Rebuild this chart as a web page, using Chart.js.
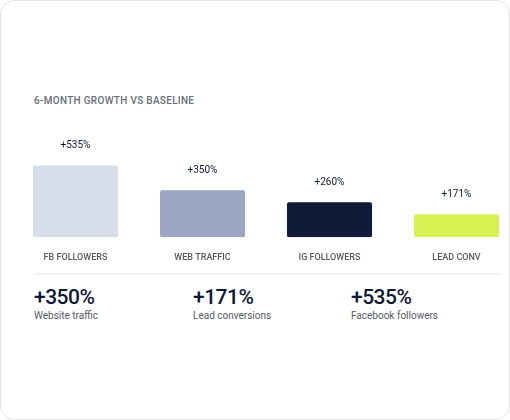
<!DOCTYPE html>
<html>
<head>
<meta charset="utf-8">
<script src="https://cdn.jsdelivr.net/npm/chart.js@4"></script>
<style>
  html, body { margin: 0; padding: 0; background: #fff; font-family: Roboto, sans-serif; }
  .card { position: absolute; left: 0; top: 0; width: 508px; height: 418px; border: 1px solid #e3e4e8; border-radius: 14px; overflow: hidden; background: #fff; }
  .title { position: absolute; left: 33px; top: 94px; font-size: 10px; font-weight: 500; color: #6a6e75; letter-spacing: 0.3px; }
  .wrap { position: absolute; left: 11px; top: 129px; width: 508px; height: 140px; }
  .divider { position: absolute; left: 33px; top: 272px; width: 465px; height: 2px; background: #f0f1f3; }
  .stat { position: absolute; top: 284px; }
  .stat .v { font-size: 21px; font-weight: 500; color: #0f1836; line-height: 24px; letter-spacing: -0.5px; }
  .stat .l { font-size: 10px; color: #555a63; line-height: 14px; }
</style>
</head>
<body>
<div class="card">
  <div class="title">6-MONTH GROWTH VS BASELINE</div>
  <div class="wrap"><canvas id="growth"></canvas></div>
  <div class="divider"></div>
  <div class="stat" style="left:33px"><div class="v">+350%</div><div class="l">Website traffic</div></div>
  <div class="stat" style="left:192px"><div class="v">+171%</div><div class="l">Lead conversions</div></div>
  <div class="stat" style="left:350px"><div class="v">+535%</div><div class="l">Facebook followers</div></div>
</div>
<script>
const categories = ['FB FOLLOWERS', 'WEB TRAFFIC', 'IG FOLLOWERS', 'LEAD CONV'];
const growth = [535, 350, 260, 171];
const barColors = ['#d8dee9', '#9ca5c1', '#111a38', '#d9f152'];

const valueLabels = {
  id: 'valueLabels',
  afterDatasetsDraw(chart) {
    const ctx = chart.ctx;
    ctx.save();
    ctx.font = '10px Roboto, sans-serif';
    ctx.fillStyle = '#0f1836';
    ctx.textAlign = 'center';
    ctx.textBaseline = 'middle';
    chart.getDatasetMeta(0).data.forEach((bar, i) => {
      ctx.fillText('+' + growth[i] + '%', bar.x, bar.y - 20);
    });
    ctx.restore();
  }
};

new Chart(document.getElementById('growth').getContext('2d'), {
  type: 'bar',
  data: {
    labels: categories,
    datasets: [{
      data: growth,
      backgroundColor: barColors,
      borderRadius: 2,
      borderSkipped: false,
      categoryPercentage: 1,
      barPercentage: 0.67
    }]
  },
  options: {
    responsive: true,
    maintainAspectRatio: false,
    animation: false,
    layout: { padding: 0 },
    plugins: { legend: { display: false }, tooltip: { enabled: false } },
    scales: {
      x: {
        grid: { display: false },
        border: { display: false },
        ticks: { color: '#555a63', font: { size: 9, family: 'Roboto', weight: '500' }, padding: 7 }
      },
      y: { display: false, min: 0, max: 800 }
    }
  },
  plugins: [valueLabels]
});
</script>
</body>
</html>
